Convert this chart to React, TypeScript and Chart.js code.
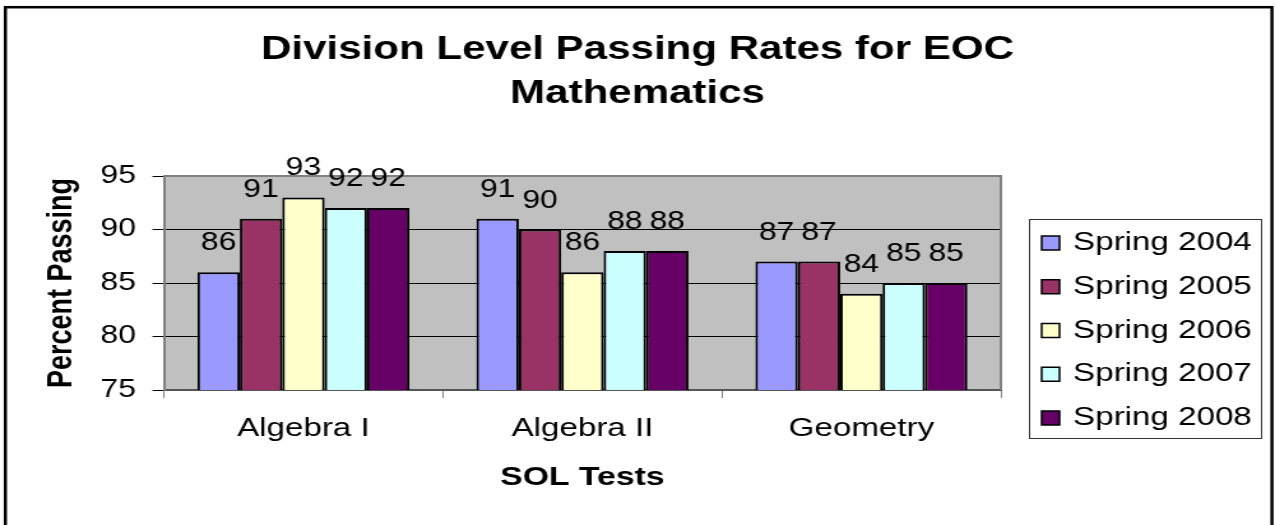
import React, { useEffect, useRef } from "react";
import { Chart, registerables } from "chart.js";

Chart.register(...registerables);

const CATEGORIES = ["Algebra I", "Algebra II", "Geometry"];
const SERIES_LABELS = ["Spring 2004", "Spring 2005", "Spring 2006", "Spring 2007", "Spring 2008"];
const SPRING_2004 = [86, 91, 87];
const SPRING_2005 = [91, 90, 87];
const SPRING_2006 = [93, 86, 84];
const SPRING_2007 = [92, 88, 85];
const SPRING_2008 = [92, 88, 85];
const SERIES_COLORS = ["#9999FF", "#993366", "#FFFFCC", "#CCFFFF", "#660066"];
const TITLE_LINES = ["Division Level Passing Rates for EOC", "Mathematics"];
const X_TITLE = "SOL Tests";
const Y_TITLE = "Percent Passing";
const Y_MIN = 75;
const Y_MAX = 95;
const Y_STEP = 5;

const FONT = "'Liberation Sans', Arial, Helvetica, sans-serif";
const INTERNAL_W = 1000;
const DISPLAY_W = 1275;
const H = 525;

const decorPlugin = {
  id: "decor",
  beforeDraw(chart: any) {
    const { ctx, chartArea: a } = chart;
    ctx.save();
    ctx.fillStyle = "#ffffff";
    ctx.fillRect(0, 0, chart.width, chart.height);
    ctx.fillStyle = "#C0C0C0";
    ctx.fillRect(a.left, a.top, a.right - a.left, a.bottom - a.top);
    // outer border
    ctx.strokeStyle = "#000";
    ctx.lineWidth = 2.5;
    ctx.strokeRect(4.2, 7.2, 997.6 - 4.2, 800);
    // title
    ctx.fillStyle = "#000";
    ctx.font = `bold 33px ${FONT}`;
    ctx.textAlign = "center";
    ctx.textBaseline = "alphabetic";
    TITLE_LINES.forEach((t, i) => ctx.fillText(t, chart.width / 2, 59 + i * 44));
    ctx.restore();
  },
  afterDatasetsDraw(chart: any) {
    const { ctx, chartArea: a } = chart;
    ctx.save();
    // top & right plot border
    ctx.strokeStyle = "#808080";
    ctx.lineWidth = 2;
    ctx.beginPath();
    ctx.moveTo(a.left, a.top);
    ctx.lineTo(a.right, a.top);
    ctx.lineTo(a.right, a.bottom);
    ctx.stroke();
    // data labels
    ctx.fillStyle = "#000";
    ctx.font = `25px ${FONT}`;
    ctx.textAlign = "center";
    ctx.textBaseline = "alphabetic";
    chart.data.datasets.forEach((ds: any, i: number) => {
      const meta = chart.getDatasetMeta(i);
      meta.data.forEach((el: any, j: number) => {
        ctx.fillText(String(ds.data[j]), el.x, el.y - 22);
      });
    });
    // legend
    ctx.strokeStyle = "#333";
    ctx.lineWidth = 1;
    ctx.strokeRect(807.5, 219.5, 182, 219);
    ctx.font = `26px ${FONT}`;
    ctx.textAlign = "left";
    chart.data.datasets.forEach((ds: any, i: number) => {
      const base = 250 + i * 43.75;
      ctx.fillStyle = ds.backgroundColor;
      ctx.fillRect(817, base - 14, 14, 14);
      ctx.strokeStyle = "#000";
      ctx.lineWidth = 1.5;
      ctx.strokeRect(817, base - 14, 14, 14);
      ctx.fillStyle = "#000";
      ctx.fillText(ds.label, 841.6, base);
    });
    ctx.restore();
  },
};

export default function App() {
  const ref = useRef<HTMLCanvasElement | null>(null);
  useEffect(() => {
    if (!ref.current) return;
    const seriesData = [SPRING_2004, SPRING_2005, SPRING_2006, SPRING_2007, SPRING_2008];
    const chart = new Chart(ref.current, {
      type: "bar",
      data: {
        labels: CATEGORIES,
        datasets: SERIES_LABELS.map((label, i) => ({
          label,
          data: seriesData[i],
          backgroundColor: SERIES_COLORS[i],
          borderColor: "#000",
          borderWidth: 2,
          borderSkipped: false,
          categoryPercentage: 0.76,
          barPercentage: 1,
        })),
      },
      options: {
        responsive: false,
        animation: false,
        events: [],
        layout: { padding: { left: 0, top: 176, right: 215, bottom: 0 } },
        plugins: {
          legend: { display: false },
          title: { display: false },
          tooltip: { enabled: false },
        },
        scales: {
          x: {
            offset: true,
            grid: {
              display: true,
              drawOnChartArea: false,
              drawTicks: true,
              tickLength: 8,
              color: "#808080",
              offset: true,
            },
            border: { display: true, color: "#555", width: 2 },
            ticks: { color: "#000", font: { family: FONT, size: 26 }, padding: 15 },
            title: {
              display: true,
              text: X_TITLE,
              color: "#000",
              font: { family: FONT, size: 26.5, weight: "bold" },
              padding: { top: 0, bottom: 31 },
            },
            afterFit: (s: any) => {
              s.height = 135;
            },
          },
          y: {
            min: Y_MIN,
            max: Y_MAX,
            ticks: { stepSize: Y_STEP, color: "#000", font: { family: FONT, size: 25 }, padding: 13 },
            grid: {
              color: (c: any) => (c.tick && c.tick.value === Y_MAX ? "#808080" : "#000"),
              tickColor: "#000",
              tickLength: 9,
              lineWidth: 1,
            },
            border: { display: true, color: "#808080", width: 2 },
            title: {
              display: true,
              text: Y_TITLE,
              color: "#000",
              font: { family: FONT, size: 27, weight: "bold" },
              padding: { top: 32, bottom: 0 },
            },
            afterFit: (s: any) => {
              s.width = 128.6;
            },
          },
        },
      } as any,
      plugins: [decorPlugin],
    });
    return () => chart.destroy();
  }, []);
  return (
    <div style={{ position: "absolute", left: 0, top: 0, width: DISPLAY_W, height: H, background: "#fff" }}>
      <canvas
        ref={ref}
        width={INTERNAL_W}
        height={H}
        style={{ display: "block", width: `${DISPLAY_W}px`, height: `${H}px` }}
      />
    </div>
  );
}
